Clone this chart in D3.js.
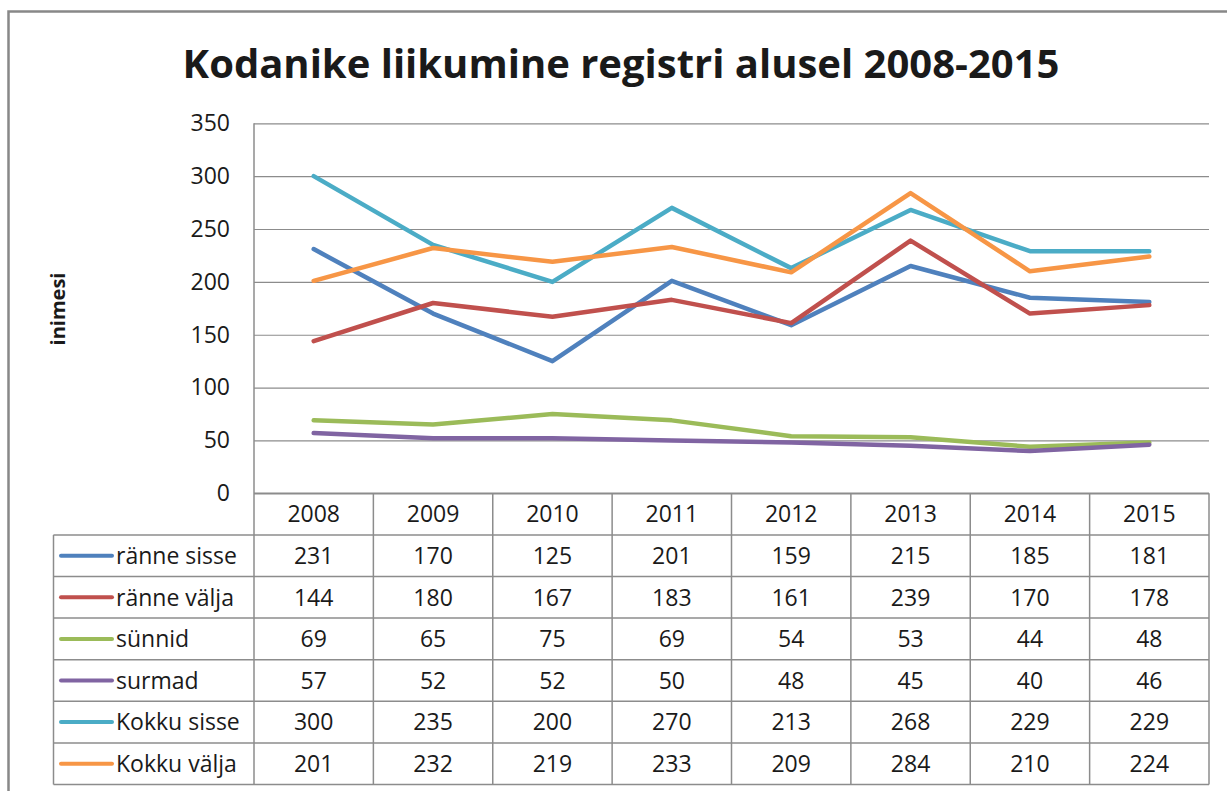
<!DOCTYPE html>
<html>
<head>
<meta charset="utf-8">
<script src="https://cdn.jsdelivr.net/npm/d3@7"></script>
<style>
  body { margin: 0; background: #fff; }
  text { font-family: "Open Sans", "Liberation Sans", sans-serif; fill: #1a1a1a; }
</style>
</head>
<body>
<div id="chart"></div>
<script>
// Data //
var years = ["2008", "2009", "2010", "2011", "2012", "2013", "2014", "2015"];
var seriesNames = ["ränne sisse", "ränne välja", "sünnid", "surmad", "Kokku sisse", "Kokku välja"];
var ranneSisse = [231, 170, 125, 201, 159, 215, 185, 181];
var ranneValja = [144, 180, 167, 183, 161, 239, 170, 178];
var sunnid = [69, 65, 75, 69, 54, 53, 44, 48];
var surmad = [57, 52, 52, 50, 48, 45, 40, 46];
var kokkuSisse = [300, 235, 200, 270, 213, 268, 229, 229];
var kokkuValja = [201, 232, 219, 233, 209, 284, 210, 224];
var yTicks = [0, 50, 100, 150, 200, 250, 300, 350];

var colors = ["#4F81BD", "#C0504D", "#9BBB59", "#8064A2", "#4BACC6", "#F79646"];
var series = [ranneSisse, ranneValja, sunnid, surmad, kokkuSisse, kokkuValja].map(function(v, i) {
  return { name: seriesNames[i], values: v, color: colors[i] };
});

var svgWidth = 1227;
var svgHeight = 791;

var plot = { left: 254, right: 1209, top: 123.3, bottom: 493.3 };
var rowH = 41.6;
var tableLeft = 53.5;
var fs = 23;

var svg = d3.select("#chart")
  .append("svg")
  .attr("width", svgWidth)
  .attr("height", svgHeight);

// outer chart border
svg.append("rect")
  .attr("x", 8.5).attr("y", 11.5)
  .attr("width", 1240).attr("height", 800)
  .attr("fill", "none")
  .attr("stroke", "#888")
  .attr("stroke-width", 2.5);

// Scales //
var xScale = d3.scaleBand()
  .domain(years)
  .range([plot.left, plot.right]);

var yScale = d3.scaleLinear()
  .domain([0, 350])
  .range([plot.bottom, plot.top]);

// gridlines + y axis
var yAxis = d3.axisLeft(yScale)
  .tickValues(yTicks)
  .tickSize(-(plot.right - plot.left))
  .tickPadding(24);

var yG = svg.append("g")
  .attr("transform", `translate(${plot.left}, 0)`)
  .call(yAxis);
yG.select(".domain").remove();
yG.selectAll(".tick line").attr("stroke", "#8c8c8c").attr("stroke-width", 1.2);
yG.selectAll(".tick text")
  .attr("font-size", fs)
  .attr("fill", "#1a1a1a")
  .style("font-family", "'Open Sans', sans-serif");

// left axis line
svg.append("line")
  .attr("x1", plot.left).attr("x2", plot.left)
  .attr("y1", plot.top).attr("y2", plot.bottom + rowH * 7)
  .attr("stroke", "#8c8c8c").attr("stroke-width", 1.5);

// Data table //
var tableBottom = plot.bottom + rowH * 7;
var tableG = svg.append("g");

// horizontal lines
d3.range(0, 8).forEach(function(r) {
  var y = plot.bottom + rowH * r;
  tableG.append("line")
    .attr("x1", r === 0 ? plot.left : tableLeft).attr("x2", plot.right)
    .attr("y1", y).attr("y2", y)
    .attr("stroke", "#8c8c8c").attr("stroke-width", 1.5);
});
// vertical lines
tableG.append("line")
  .attr("x1", tableLeft).attr("x2", tableLeft)
  .attr("y1", plot.bottom + rowH).attr("y2", tableBottom)
  .attr("stroke", "#8c8c8c").attr("stroke-width", 1.5);
years.forEach(function(yr) {
  var x = xScale(yr) + xScale.bandwidth();
  tableG.append("line")
    .attr("x1", x).attr("x2", x)
    .attr("y1", plot.bottom).attr("y2", tableBottom)
    .attr("stroke", "#8c8c8c").attr("stroke-width", 1.5);
});

// header years
tableG.selectAll(".yr")
  .data(years)
  .enter()
  .append("text")
  .attr("x", d => xScale(d) + xScale.bandwidth() / 2)
  .attr("y", plot.bottom + rowH / 2)
  .attr("dy", "0.36em")
  .attr("text-anchor", "middle")
  .attr("font-size", fs)
  .text(d => d);

// rows
series.forEach(function(s, i) {
  var cy = plot.bottom + rowH * (i + 1.5);
  tableG.append("line")
    .attr("x1", 61).attr("x2", 112)
    .attr("y1", cy).attr("y2", cy)
    .attr("stroke", s.color)
    .attr("stroke-width", 4)
    .attr("stroke-linecap", "round");
  tableG.append("text")
    .attr("x", 116)
    .attr("y", cy)
    .attr("dy", "0.36em")
    .attr("font-size", fs)
    .text(s.name);
  tableG.selectAll(".v" + i)
    .data(s.values)
    .enter()
    .append("text")
    .attr("x", (d, j) => xScale(years[j]) + xScale.bandwidth() / 2)
    .attr("y", cy)
    .attr("dy", "0.36em")
    .attr("text-anchor", "middle")
    .attr("font-size", fs)
    .text(d => d);
});

// Lines //
var line = d3.line()
  .x((d, j) => xScale(years[j]) + xScale.bandwidth() / 2)
  .y(d => yScale(d));

svg.selectAll(".series")
  .data(series)
  .enter()
  .append("path")
  .attr("d", d => line(d.values))
  .attr("fill", "none")
  .attr("stroke", d => d.color)
  .attr("stroke-width", 4.5)
  .attr("stroke-linejoin", "round")
  .attr("stroke-linecap", "round");

// Title //
svg.append("text")
  .attr("x", 621)
  .attr("y", 78)
  .attr("text-anchor", "middle")
  .attr("font-size", 40)
  .attr("font-weight", "bold")
  .attr("fill", "#000")
  .text("Kodanike liikumine registri alusel 2008-2015");

// Y axis label //
svg.append("text")
  .attr("transform", "translate(65, 309) rotate(-90)")
  .attr("text-anchor", "middle")
  .attr("font-size", 20)
  .attr("font-weight", "bold")
  .attr("fill", "#000")
  .text("inimesi");
</script>
</body>
</html>
